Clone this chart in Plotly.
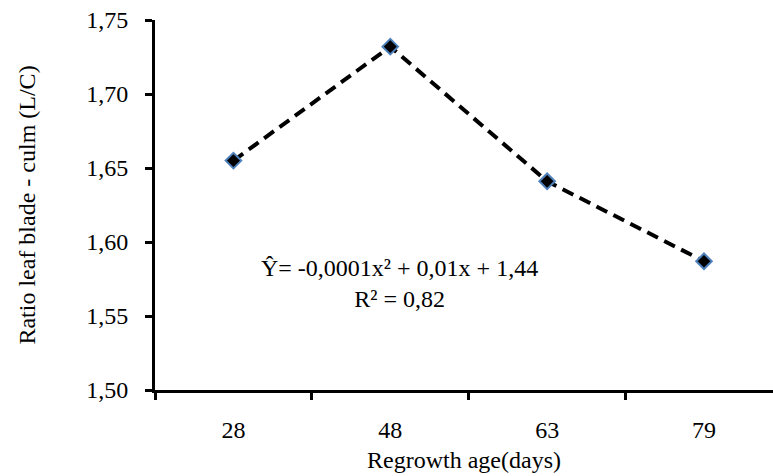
import plotly.graph_objects as go

days = ["28", "48", "63", "79"]
ratio = [1.655, 1.732, 1.641, 1.587]
y_ticks = [1.50, 1.55, 1.60, 1.65, 1.70, 1.75]

FONT = "Liberation Serif, Times New Roman, serif"

fig = go.Figure()
fig.add_trace(go.Scatter(
    x=days, y=ratio, mode="lines+markers",
    line=dict(color="black", width=4, dash="12px,7px"),
    marker=dict(symbol="diamond", size=12, color="black",
                line=dict(color="#4F81BD", width=2)),
    showlegend=False,
))

fig.add_annotation(
    x=1.06, y=1.572, xref="x", yref="y",
    text="Ŷ= -0,0001x² + 0,01x + 1,44<br>R² = 0,82",
    showarrow=False, align="center",
    font=dict(family=FONT, size=24, color="black"),
)

fig.update_layout(
    width=773, height=476,
    margin=dict(l=155, r=0, t=20, b=86),
    paper_bgcolor="white", plot_bgcolor="white",
    separators=",.",
    font=dict(family=FONT, size=24, color="black"),
)
fig.update_xaxes(
    type="category", range=[-0.5, 3.44],
    showline=True, linecolor="black", linewidth=3,
    ticks="outside", tickson="boundaries", ticklen=7, tickwidth=3, tickcolor="black",
    ticklabelstandoff=16,
    showgrid=False, zeroline=False,
    title=dict(text="Regrowth age(days)", font=dict(family=FONT, size=24), standoff=10),
)
fig.update_yaxes(
    range=[1.50, 1.75], tickvals=y_ticks, tickformat=".2f",
    showline=True, linecolor="black", linewidth=3,
    ticks="outside", ticklen=7, tickwidth=3, tickcolor="black",
    ticklabelstandoff=12,
    showgrid=False, zeroline=False,
    title=dict(text="Ratio leaf blade - culm (L/C)", font=dict(family=FONT, size=24), standoff=44),
)

fig.write_html("out.html")
